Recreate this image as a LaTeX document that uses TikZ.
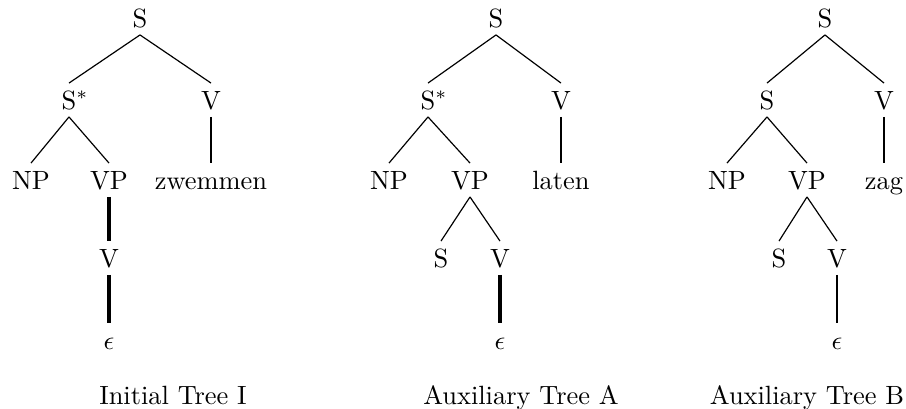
\documentclass[tikz,border=0pt]{standalone}
\begin{document}
\begin{tikzpicture}[x=0.3788pt, y=-0.3788pt,
  every node/.style={inner sep=0pt, outer sep=3pt, text height=6.83pt, text depth=0pt},
  br/.style={line width=.45pt}, stem/.style={line width=.8pt}, heavy/.style={line width=1.2pt}]
\useasboundingbox (0,0) rectangle (906,409);
% Initial Tree I
\node (iS) at (140,18) {S};
\node (iSs) at (69,100) {S\rlap{$^*$}};
\node (iV) at (211,100) {V};
\node (iNP) at (31,180) {NP};
\node (iVP) at (109,180) {VP};
\node (iw) at (211,180) {zwemmen};
\node (iV2) at (109,258) {V};
\node (ie) at (109,340) {$\epsilon$};
\node (icap) at (173,395) {Initial Tree I};
% Auxiliary Tree A
\node (aS) at (496,18) {S};
\node (aSs) at (428,100) {S\rlap{$^*$}};
\node (aV) at (561,100) {V};
\node (aNP) at (389,180) {NP};
\node (aVP) at (470,180) {VP};
\node (aw) at (561,180) {laten};
\node (aS2) at (441,258) {S};
\node (aV2) at (500,258) {V};
\node (ae) at (500,340) {$\epsilon$};
\node (acap) at (521,395) {Auxiliary Tree A};
% Auxiliary Tree B
\node (bS) at (825,18) {S};
\node (bSs) at (767,100) {S};
\node (bV) at (884,100) {V};
\node (bNP) at (727,180) {NP};
\node (bVP) at (807,180) {VP};
\node (bw) at (884,180) {zag};
\node (bS2) at (779,258) {S};
\node (bV2) at (837,258) {V};
\node (be) at (837,340) {$\epsilon$};
\node (bcap) at (807,395) {Auxiliary Tree B};
% branches
\foreach \a/\b in {iS/iSs,iS/iV,iSs/iNP,iSs/iVP,aS/aSs,aS/aV,aSs/aNP,aSs/aVP,aVP/aS2,aVP/aV2,bS/bSs,bS/bV,bSs/bNP,bSs/bVP,bVP/bS2,bVP/bV2}
  \draw[br] (\a.south) -- (\b.north);
\foreach \a/\b in {iV/iw,aV/aw,bV/bw,bV2/be}
  \draw[stem] (\a.south) -- (\b.north);
\foreach \a/\b in {iVP/iV2,iV2/ie,aV2/ae}
  \draw[heavy] (\a.south) -- (\b.north);
\end{tikzpicture}
\end{document}
